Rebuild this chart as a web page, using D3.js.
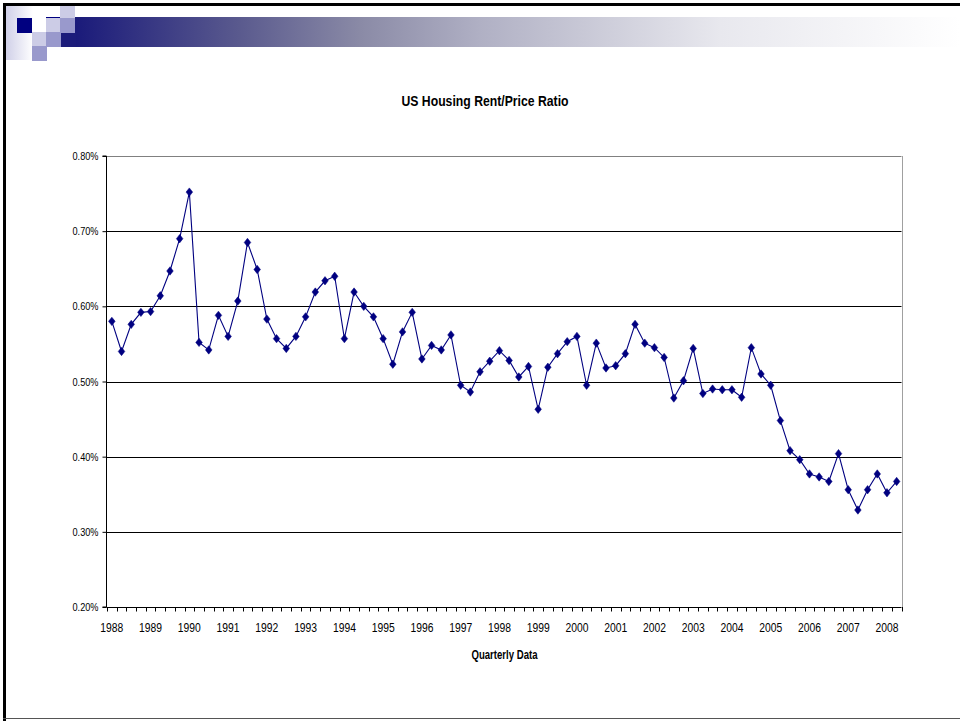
<!DOCTYPE html>
<html>
<head>
<meta charset="utf-8">
<script src="https://cdn.jsdelivr.net/npm/d3@7"></script>
<style>
  html, body { margin: 0; padding: 0; background: #fff; }
  svg { display: block; }
  text { font-family: "Liberation Sans Narrow", "Arial Narrow", "Liberation Sans", Arial, sans-serif; }
</style>
</head>
<body>
<svg id="chart" width="960" height="721"></svg>
<script>
// ---- data ----
const title = "US Housing Rent/Price Ratio";
const xTitle = "Quarterly Data";
const years = ["1988","1989","1990","1991","1992","1993","1994","1995","1996","1997","1998",
               "1999","2000","2001","2002","2003","2004","2005","2006","2007","2008"];
const quarters = ["Q1","Q2","Q3","Q4"];
// rent/price ratio in percent, quarterly 1988Q1 .. 2008Q2
const ratio = [
  0.580, 0.540, 0.576, 0.592,
  0.593, 0.614, 0.647, 0.690,
  0.752, 0.552, 0.542, 0.588,
  0.560, 0.607, 0.685, 0.649,
  0.583, 0.557, 0.544, 0.560,
  0.586, 0.619, 0.634, 0.640,
  0.557, 0.619, 0.600, 0.586,
  0.557, 0.523, 0.566, 0.592,
  0.530, 0.548, 0.542, 0.562,
  0.495, 0.486, 0.513, 0.527,
  0.541, 0.528, 0.506, 0.520,
  0.463, 0.519, 0.537, 0.553,
  0.560, 0.495, 0.551, 0.518,
  0.521, 0.537, 0.576, 0.551,
  0.545, 0.532, 0.478, 0.501,
  0.544, 0.484, 0.490, 0.489,
  0.489, 0.479, 0.545, 0.510,
  0.495, 0.448, 0.408, 0.396,
  0.377, 0.373, 0.367, 0.404,
  0.356, 0.329, 0.356, 0.377,
  0.352, 0.367
];
const yTicks = [0.20, 0.30, 0.40, 0.50, 0.60, 0.70, 0.80];

// build categories
const cats = [];
years.forEach(y => quarters.forEach(q => cats.push(y + q)));
const data = ratio.map((v, i) => ({ cat: cats[i], v }));

// ---- drawing ----
const svg = d3.select("#chart");

// header decoration
const defs = svg.append("defs");
const grad = defs.append("linearGradient").attr("id", "bar").attr("x1", "0").attr("x2", "1").attr("y1", "0").attr("y2", "0");
[[0, "#1a1a7a"], [0.186, "#5a5a8e"], [0.322, "#8a8aa6"], [0.458, "#b0b0c4"], [0.729, "#e8e8ee"], [1, "#ffffff"]]
  .forEach(([o, c]) => grad.append("stop").attr("offset", o).attr("stop-color", c));
const grad2 = defs.append("linearGradient").attr("id", "side").attr("x1", "0").attr("x2", "1");
grad2.append("stop").attr("offset", 0).attr("stop-color", "#d0d0e8");
grad2.append("stop").attr("offset", 1).attr("stop-color", "#ffffff");

svg.append("rect").attr("x", 6).attr("y", 6).attr("width", 27).attr("height", 54).attr("fill", "url(#side)");
svg.append("rect").attr("x", 75).attr("y", 17).attr("width", 885).attr("height", 30).attr("fill", "url(#bar)");
svg.append("rect").attr("x", 61).attr("y", 33).attr("width", 15).attr("height", 14).attr("fill", "#1c1c7a");
const sq = [
  [17, 18, 15, 15, "#000080"],
  [32, 32, 14, 14, "#ccccE6"],
  [32, 46, 15, 15, "#9999cc"],
  [46, 18, 14, 14, "#ccccE6"],
  [46, 32, 15, 15, "#9999cc"],
  [60, 6, 15, 12, "#ccccE6"],
  [60, 18, 15, 15, "#9999cc"]
];
sq.forEach(s => svg.append("rect").attr("x", s[0]).attr("y", s[1]).attr("width", s[2]).attr("height", s[3]).attr("fill", s[4]));
svg.append("rect").attr("x", 46).attr("y", 17).attr("width", 14).attr("height", 1).attr("fill", "#000080");

// slide frame
svg.append("rect").attr("x", 3).attr("y", 3).attr("width", 957).attr("height", 3).attr("fill", "#000");
svg.append("rect").attr("x", 3).attr("y", 3).attr("width", 3).attr("height", 718).attr("fill", "#000");
svg.append("rect").attr("x", 3).attr("y", 718).attr("width", 957).attr("height", 1).attr("fill", "#555");

// chart
const L = 107, R = 901.5, T = 156, B = 607;
const x = d3.scaleBand().domain(cats.slice(0, ratio.length)).range([L, R]).paddingInner(0).paddingOuter(0);
const y = d3.scaleLinear().domain([0.2, 0.8]).range([B, T]);
const cx = c => x(c) + x.bandwidth() / 2;

// gridlines
svg.append("g").selectAll("line").data(yTicks.filter(t => t > 0.2)).join("line")
  .attr("x1", L).attr("x2", R)
  .attr("y1", d => Math.round(y(d)) + 0.5).attr("y2", d => Math.round(y(d)) + 0.5)
  .attr("stroke", d => d === 0.8 ? "#808080" : "#000").attr("stroke-width", 1);
// right border of plot area
svg.append("line").attr("x1", Math.round(R) + 0.5).attr("x2", Math.round(R) + 0.5)
  .attr("y1", T).attr("y2", B).attr("stroke", "#a0a0a0");

// y axis
const yAxis = d3.axisLeft(y).tickValues(yTicks).tickSize(4).tickPadding(4)
  .tickFormat(d => d.toFixed(2) + "%");
const gy = svg.append("g").attr("transform", `translate(${L - 0.5},0)`).call(yAxis);
gy.select(".domain").attr("stroke", "#000").attr("d", `M-4,${T}H0V${B}H-4`);
gy.selectAll(".tick line").attr("stroke", "#000");
gy.selectAll(".tick text").attr("font-size", 11).attr("fill", "#000")
  .style("font-family", '"Liberation Sans Narrow","Arial Narrow","Liberation Sans",Arial,sans-serif')
  .attr("textLength", 26).attr("lengthAdjust", "spacingAndGlyphs");

// x axis: ticks between every category, labels at Q1
const boundaries = cats.slice(0, ratio.length).map(c => x(c)).concat([R]);
const gx = svg.append("g");
gx.append("line").attr("x1", L - 0.5).attr("x2", R).attr("y1", B + 0.5).attr("y2", B + 0.5).attr("stroke", "#000");
gx.selectAll("line.t").data(boundaries).join("line").attr("class", "t")
  .attr("x1", d => Math.round(d) + 0.5).attr("x2", d => Math.round(d) + 0.5)
  .attr("y1", B).attr("y2", B + 4.5).attr("stroke", "#000");
gx.selectAll("text").data(years).join("text")
  .attr("x", d => cx(d + "Q1")).attr("y", 632)
  .attr("text-anchor", "middle").attr("font-size", 13).attr("fill", "#000")
  .attr("textLength", 23).attr("lengthAdjust", "spacingAndGlyphs")
  .text(d => d);

// line + markers
const line = d3.line().x(d => cx(d.cat)).y(d => y(d.v));
svg.append("path").datum(data).attr("d", line).attr("fill", "none")
  .attr("stroke", "#000080").attr("stroke-width", 1.1);
svg.append("g").selectAll("path").data(data).join("path")
  .attr("transform", d => `translate(${cx(d.cat)},${y(d.v)})`)
  .attr("d", "M0,-4.2L3.3,0L0,4.2L-3.3,0Z")
  .attr("fill", "#000080").attr("stroke", "#000080").attr("stroke-width", 0.5);

// titles
svg.append("text").attr("x", 485).attr("y", 106).attr("text-anchor", "middle")
  .attr("font-size", 15).attr("font-weight", "bold").attr("fill", "#000")
  .attr("textLength", 167).attr("lengthAdjust", "spacingAndGlyphs").text(title);
svg.append("text").attr("x", 504.5).attr("y", 659).attr("text-anchor", "middle")
  .attr("font-size", 12.5).attr("font-weight", "bold").attr("fill", "#000")
  .attr("textLength", 66).attr("lengthAdjust", "spacingAndGlyphs").text(xTitle);
</script>
</body>
</html>
